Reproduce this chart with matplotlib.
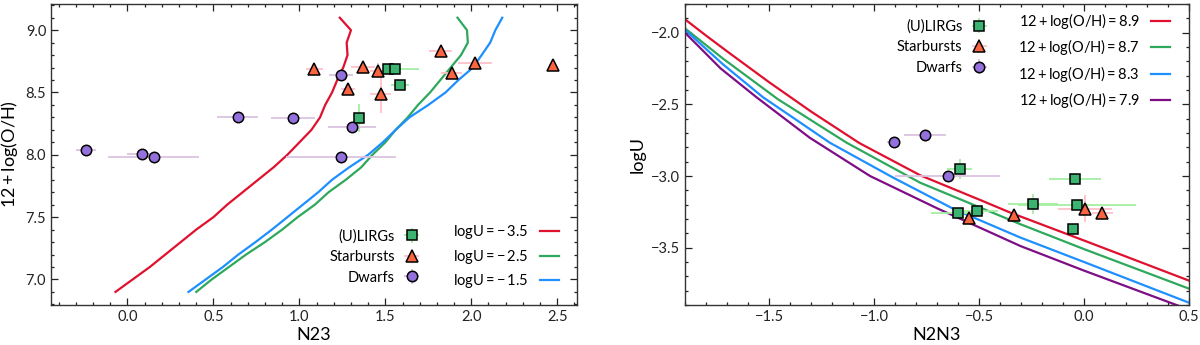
import matplotlib
matplotlib.use("Agg")
import matplotlib.pyplot as plt
from matplotlib.ticker import MultipleLocator
import numpy as np

plt.rcParams['font.family'] = ['Lato', 'DejaVu Sans']
plt.rcParams['mathtext.fontset'] = 'custom'
plt.rcParams['mathtext.rm'] = 'Lato'
plt.rcParams['mathtext.it'] = 'Lato:italic'
plt.rcParams['mathtext.bf'] = 'Lato:bold'
plt.rcParams['axes.unicode_minus'] = True

# ---------------- Left panel data: N23 vs 12+log(O/H) ----------------
oh_grid = [6.9, 7.0, 7.1, 7.2, 7.3, 7.4, 7.5, 7.6, 7.7, 7.8, 7.9, 8.0,
           8.1, 8.2, 8.3, 8.4, 8.5, 8.6, 8.7, 8.8, 8.9, 9.0, 9.1]
n23_logU_m35 = [-0.07, 0.03, 0.13, 0.22, 0.31, 0.40, 0.50, 0.58, 0.67, 0.76, 0.85, 0.93,
                1.00, 1.07, 1.12, 1.15, 1.19, 1.22, 1.255, 1.28, 1.275, 1.30, 1.235]
n23_logU_m25 = [0.40, 0.49, 0.59, 0.69, 0.80, 0.90, 0.99, 1.09, 1.17, 1.27, 1.36, 1.425,
                1.50, 1.56, 1.63, 1.69, 1.76, 1.82, 1.88, 1.94, 1.98, 1.975, 1.92]
n23_logU_m15 = [0.355, 0.455, 0.555, 0.645, 0.745, 0.84, 0.93, 1.02, 1.11, 1.19, 1.29, 1.40,
                1.485, 1.56, 1.64, 1.75, 1.85, 1.925, 2.01, 2.06, 2.11, 2.14, 2.18]

ulirg_n23 = [1.518, 1.554, 1.585, 1.344]
ulirg_oh = [8.69, 8.69, 8.559, 8.297]
ulirg_n23_err_lo = [0.02, 0.03, 0.05, 0.02]
ulirg_n23_err_hi = [0.02, 0.14, 0.05, 0.02]
ulirg_oh_err = [0.02, 0.02, 0.03, 0.11]

sb_n23 = [1.087, 1.283, 1.371, 1.458, 1.473, 1.821, 1.886, 2.022, 2.473]
sb_oh = [8.69, 8.527, 8.706, 8.676, 8.484, 8.834, 8.66, 8.738, 8.719]
sb_n23_err = [0.05, 0.04, 0.07, 0.05, 0.06, 0.065, 0.06, 0.10, 0.02]
sb_oh_err = [0.02, 0.02, 0.02, 0.06, 0.15, 0.02, 0.02, 0.02, 0.02]

dw_n23 = [-0.241, 0.087, 0.152, 0.641, 0.962, 1.241, 1.308, 1.241]
dw_oh = [8.035, 8.005, 7.984, 8.302, 8.294, 8.642, 8.227, 7.979]
dw_n23_err = [0.06, 0.09, 0.265, 0.12, 0.13, 0.07, 0.14, 0.32]
dw_oh_err = [0.02, 0.02, 0.02, 0.02, 0.02, 0.02, 0.02, 0.02]

# ---------------- Right panel data: N2N3 vs logU ----------------
n2n3_oh89 = [-1.90, -1.80, -1.70, -1.50, -1.30, -1.07, -0.78, -0.49, -0.35, 0.0, 0.5]
logu_oh89 = [-1.907, -2.02, -2.13, -2.345, -2.55, -2.77, -2.995, -3.17, -3.256, -3.45, -3.73]
n2n3_oh87 = [-1.90, -1.72, -1.457, -1.13, -0.78, -0.30, 0.0, 0.5]
logu_oh87 = [-1.97, -2.18, -2.465, -2.768, -3.047, -3.338, -3.51, -3.786]
n2n3_oh83 = [-1.90, -1.72, -1.529, -1.21, -0.908, -0.621, -0.302, 0.0, 0.5]
logu_oh83 = [-1.98, -2.22, -2.45, -2.768, -3.012, -3.23, -3.43, -3.60, -3.884]
n2n3_oh79 = [-1.90, -1.73, -1.56, -1.306, -1.019, -0.70, -0.302, 0.0, 0.44, 0.5]
logu_oh79 = [-2.0, -2.25, -2.45, -2.733, -3.0, -3.225, -3.489, -3.66, -3.90, -3.93]

r_ulirg_x = [-0.591, -0.042, -0.243, -0.033, -0.601, -0.511, -0.051]
r_ulirg_y = [-2.953, -3.023, -3.198, -3.202, -3.256, -3.244, -3.372]
r_ulirg_xerr = [0.06, 0.125, 0.12, 0.28, 0.127, 0.10, 0.02]
r_ulirg_yerr = [0.07, 0.02, 0.07, 0.02, 0.02, 0.02, 0.04]

r_sb_x = [-0.547, -0.333, 0.004, 0.087]
r_sb_y = [-3.295, -3.272, -3.228, -3.256]
r_sb_xerr = [0.02, 0.02, 0.13, 0.05]
r_sb_yerr = [0.02, 0.02, 0.093, 0.02]

r_dw_x = [-0.906, -0.759, -0.649]
r_dw_y = [-2.760, -2.714, -3.0]
r_dw_xerr = [0.03, 0.10, 0.25]
r_dw_yerr = [0.02, 0.03, 0.02]

# ---------------- styles ----------------
c_red = '#e0102f'
c_green = '#2ea85c'
c_blue = '#1e8fff'
c_purple = '#7d0e86'
sq_face = '#3cb371'
tri_face = '#fa6440'
cir_face = '#9370db'
sq_err = '#a4efa4'
tri_err = '#ffc0c8'
cir_err = '#dcc3e0'

fig = plt.figure(figsize=(12, 3.45), dpi=100)
axL = fig.add_axes([51/1200, 40/345, 526/1200, 301/345])
axR = fig.add_axes([685/1200, 40/345, 504/1200, 301/345])

def style(ax):
    ax.tick_params(which='both', direction='in', top=True, right=True,
                   labelsize=10.5, colors='#222222', width=0.9)
    ax.tick_params(which='major', length=5)
    ax.tick_params(which='minor', length=2.5)
    for s in ax.spines.values():
        s.set_color('#333333')
        s.set_linewidth(1.0)

def points(ax, x, y, xerr, yerr, marker, face, ecol, ms, label):
    return ax.errorbar(x, y, xerr=xerr, yerr=yerr, fmt=marker, ms=ms,
                       mfc=face, mec='black', mew=1.1, ecolor=ecol,
                       elinewidth=1.3, capsize=0, label=label, zorder=5)

# Left
lw = 1.6
l1, = axL.plot(n23_logU_m35, oh_grid, color=c_red, lw=lw, label=r'$\mathrm{logU = -\,3.5}$', zorder=2)
l2, = axL.plot(n23_logU_m25, oh_grid, color=c_green, lw=lw, label=r'$\mathrm{logU = -\,2.5}$', zorder=2)
l3, = axL.plot(n23_logU_m15, oh_grid, color=c_blue, lw=lw, label=r'$\mathrm{logU = -\,1.5}$', zorder=2)
p1 = points(axL, ulirg_n23, ulirg_oh, [ulirg_n23_err_lo, ulirg_n23_err_hi], ulirg_oh_err,
            's', sq_face, sq_err, 7, '(U)LIRGs')
p2 = points(axL, sb_n23, sb_oh, sb_n23_err, sb_oh_err, '^', tri_face, tri_err, 8, 'Starbursts')
p3 = points(axL, dw_n23, dw_oh, dw_n23_err, dw_oh_err, 'o', cir_face, cir_err, 7.5, 'Dwarfs')
axL.set_xlim(-0.445, 2.615)
axL.set_ylim(6.795, 9.21)
axL.xaxis.set_major_locator(MultipleLocator(0.5))
axL.xaxis.set_minor_locator(MultipleLocator(0.1))
axL.yaxis.set_major_locator(MultipleLocator(0.5))
axL.yaxis.set_minor_locator(MultipleLocator(0.1))
axL.set_xlabel('N23', fontsize=13, labelpad=2)
axL.set_ylabel(r'$\mathrm{12 + log(O/H)}$', fontsize=13, labelpad=4)
style(axL)
legA = axL.legend(handles=[p1, p2, p3], loc='center', bbox_to_anchor=(0.615, 0.16),
                  frameon=False, markerfirst=False, fontsize=10.5, handlelength=1.1,
                  handletextpad=0.6, labelspacing=0.45, borderpad=0.2)
axL.add_artist(legA)
axL.legend(handles=[l1, l2, l3], loc='center', bbox_to_anchor=(0.865, 0.16),
           frameon=False, markerfirst=False, fontsize=10.5, handlelength=1.3,
           handletextpad=0.8, labelspacing=0.45, borderpad=0.2)

# Right
r1, = axR.plot(n2n3_oh89, logu_oh89, color=c_red, lw=lw, label=r'$\mathrm{12 + log(O/H) = 8.9}$', zorder=2)
r2, = axR.plot(n2n3_oh87, logu_oh87, color=c_green, lw=lw, label=r'$\mathrm{12 + log(O/H) = 8.7}$', zorder=2)
r3, = axR.plot(n2n3_oh83, logu_oh83, color=c_blue, lw=lw, label=r'$\mathrm{12 + log(O/H) = 8.3}$', zorder=2)
r4, = axR.plot(n2n3_oh79, logu_oh79, color=c_purple, lw=lw, label=r'$\mathrm{12 + log(O/H) = 7.9}$', zorder=2)
q1 = points(axR, r_ulirg_x, r_ulirg_y, r_ulirg_xerr, r_ulirg_yerr, 's', sq_face, sq_err, 7, '(U)LIRGs')
q2 = points(axR, r_sb_x, r_sb_y, r_sb_xerr, r_sb_yerr, '^', tri_face, tri_err, 8, 'Starbursts')
q3 = points(axR, r_dw_x, r_dw_y, r_dw_xerr, r_dw_yerr, 'o', cir_face, cir_err, 7.5, 'Dwarfs')
axR.set_xlim(-1.9, 0.5)
axR.set_ylim(-3.9, -1.8)
axR.xaxis.set_major_locator(MultipleLocator(0.5))
axR.xaxis.set_minor_locator(MultipleLocator(0.1))
axR.yaxis.set_major_locator(MultipleLocator(0.5))
axR.yaxis.set_minor_locator(MultipleLocator(0.1))
axR.set_xlabel('N2N3', fontsize=13, labelpad=2)
axR.set_ylabel('logU', fontsize=13, labelpad=4)
style(axR)
legB = axR.legend(handles=[q1, q2, q3], loc='center', bbox_to_anchor=(0.51, 0.857),
                  frameon=False, markerfirst=False, fontsize=10.5, handlelength=1.1,
                  handletextpad=0.6, labelspacing=0.45, borderpad=0.2)
axR.add_artist(legB)
axR.legend(handles=[r1, r2, r3, r4], loc='center', bbox_to_anchor=(0.812, 0.812),
           frameon=False, markerfirst=False, fontsize=10.5, handlelength=1.3,
           handletextpad=0.8, labelspacing=0.45, borderpad=0.2)

fig.savefig('out.png', dpi=100)
